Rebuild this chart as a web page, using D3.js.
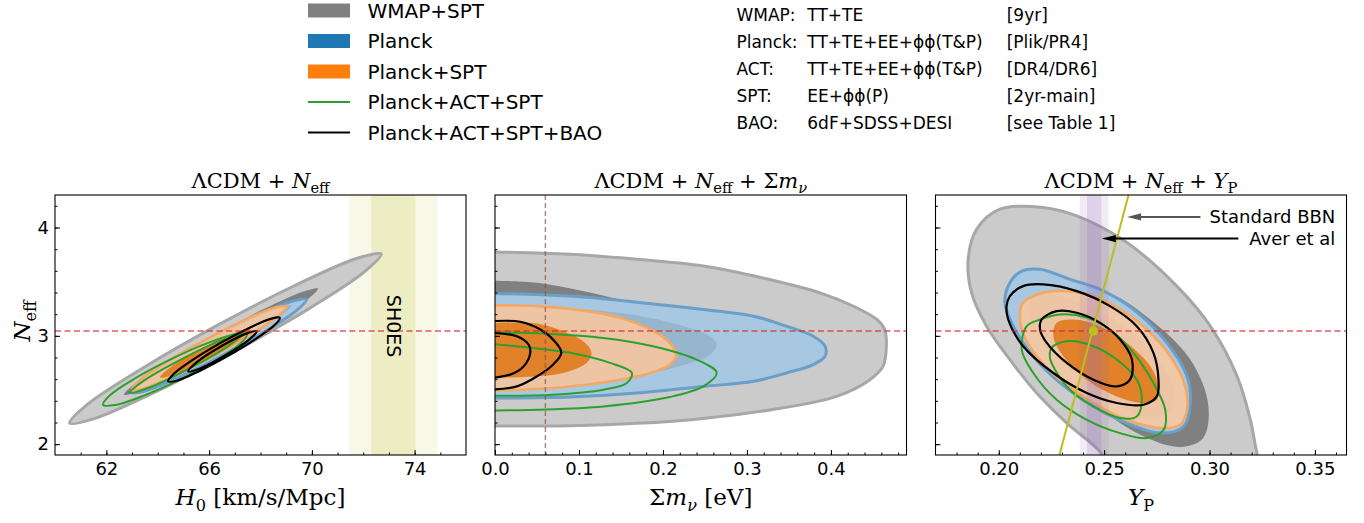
<!DOCTYPE html>
<html><head><meta charset="utf-8">
<script src="https://cdn.jsdelivr.net/npm/d3@7"></script>
<style>body{margin:0;background:#fff} svg{display:block} text{white-space:pre}</style>
</head><body>
<svg id="chart" width="1364" height="523"></svg>
<script>
// ================= DATA =================
const legendLabels = ["WMAP+SPT", "Planck", "Planck+SPT", "Planck+ACT+SPT", "Planck+ACT+SPT+BAO"];
const tableNames = ["WMAP:", "Planck:", "ACT:", "SPT:", "BAO:"];
const tableData = ["TT+TE", "TT+TE+EE+ϕϕ(T&P)", "TT+TE+EE+ϕϕ(T&P)", "EE+ϕϕ(P)", "6dF+SDSS+DESI"];
const tableRefs = ["[9yr]", "[Plik/PR4]", "[DR4/DR6]", "[2yr-main]", "[see Table 1]"];

const neffDomain = [1.9, 4.3], neffTicks = [2, 3, 4];
const h0Domain = [60, 76], h0Ticks = [62, 66, 70, 74];
const mnuDomain = [0, 0.49], mnuTicks = [0.0, 0.1, 0.2, 0.3, 0.4];
const ypDomain = [0.17, 0.365], ypTicks = [0.20, 0.25, 0.30, 0.35];

const neffStandard = 3.044;
const mnuMin = 0.06;
const shoes1 = [72.31, 74.03], shoes2 = [71.45, 74.89];
const shoesLabelPos = [73.2, 3.09];
const aver1 = [0.2419, 0.2487], aver2 = [0.2385, 0.2521];
const bbnNeff = [1.9, 4.3], bbnYp = [0.2288, 0.2616];
const bbnPoint = [0.2449, 3.044];
const arrowBBN = [[0.2957, 4.098], [0.2609, 4.098]];
const arrowAver = [[0.3137, 3.898], [0.2489, 3.898]];
const annoTextX = 0.3597;

// ---- panel 1: H0 vs Neff ----
const p1Gray95 = [[72.70,3.756],[72.03,3.588],[69.92,3.256],[66.92,2.849],[63.85,2.475],[61.53,2.236],[60.57,2.194],[61.24,2.362],[63.36,2.694],[66.35,3.101],[69.42,3.474],[71.74,3.714]];
const p1Gray68 = [[70.24,3.437],[69.82,3.334],[68.49,3.129],[66.63,2.874],[64.72,2.639],[63.28,2.486],[62.69,2.457],[63.11,2.559],[64.43,2.766],[66.29,3.020],[68.21,3.256],[69.65,3.407]];
const p1Blue95 = [[69.79,3.335],[69.42,3.237],[68.24,3.050],[66.57,2.824],[64.84,2.620],[63.53,2.493],[62.98,2.476],[63.35,2.574],[64.52,2.761],[66.20,2.987],[67.93,3.191],[69.24,3.319]];
const p1Blue68 = [[69.23,3.281],[68.47,3.130],[66.44,2.850],[64.34,2.606],[63.39,2.540],[64.15,2.691],[66.17,2.970],[68.27,3.215]];
const p1Orange95 = [[69.01,3.272],[68.69,3.183],[67.65,3.017],[66.16,2.814],[64.63,2.631],[63.47,2.517],[62.98,2.502],[63.30,2.590],[64.34,2.757],[65.83,2.960],[67.36,3.143],[68.52,3.257]];
const p1Orange68 = [[67.59,3.057],[67.15,2.958],[65.95,2.787],[64.68,2.645],[64.09,2.615],[64.52,2.714],[65.73,2.885],[67.00,3.027]];
const p1Green95 = [[67.47,3.012],[67.19,2.923],[66.24,2.770],[64.86,2.596],[63.43,2.446],[62.34,2.361],[61.87,2.364],[62.15,2.453],[63.11,2.606],[64.48,2.780],[65.91,2.930],[67.00,3.014]];
const p1Green68 = [[67.21,3.003],[66.66,2.892],[65.17,2.690],[63.62,2.518],[62.92,2.475],[63.46,2.586],[64.95,2.788],[66.50,2.960]];
const p1Black95 = [[68.75,3.167],[68.54,3.097],[67.79,2.968],[66.72,2.813],[65.61,2.674],[64.77,2.588],[64.40,2.580],[64.62,2.648],[65.36,2.778],[66.43,2.933],[67.54,3.071],[68.39,3.157]];
const p1Black68 = [[67.85,3.043],[67.53,2.960],[66.62,2.818],[65.65,2.699],[65.19,2.672],[65.51,2.755],[66.42,2.897],[67.39,3.016]];

// ---- panel 2: sum mnu vs Neff ----
const p2Gray95 = [[-0.005,3.774],[0.089,3.753],[0.169,3.707],[0.248,3.645],[0.327,3.520],[0.387,3.397],[0.427,3.273],[0.455,3.149],[0.464,3.057],[0.466,2.903],[0.462,2.718],[0.446,2.593],[0.406,2.439],[0.327,2.316],[0.248,2.238],[0.169,2.192],[0.089,2.170],[-0.005,2.167]];
const p2Gray68 = [[-0.005,3.51],[0.05,3.49],[0.10,3.42],[0.16,3.31],[0.22,3.15],[0.27,2.98],[0.29,2.85],[0.27,2.70],[0.20,2.57],[0.10,2.50],[-0.005,2.48]];
const p2Blue95 = [[-0.005,3.392],[0.089,3.367],[0.169,3.311],[0.248,3.244],[0.308,3.181],[0.347,3.089],[0.379,2.996],[0.393,2.904],[0.393,2.811],[0.379,2.734],[0.347,2.657],[0.308,2.580],[0.248,2.533],[0.169,2.472],[0.089,2.435],[-0.005,2.426]];
const p2Blue68 = [[-0.005,3.27],[0.08,3.255],[0.16,3.20],[0.22,3.10],[0.255,3.00],[0.264,2.92],[0.255,2.82],[0.22,2.72],[0.16,2.62],[0.08,2.54],[-0.005,2.51]];
const p2Orange95 = [[-0.005,3.283],[0.050,3.274],[0.109,3.228],[0.149,3.167],[0.181,3.074],[0.204,2.966],[0.216,2.827],[0.208,2.734],[0.185,2.657],[0.149,2.595],[0.089,2.533],[0.030,2.503],[-0.005,2.496]];
const p2Orange68 = [[-0.005,3.120],[0.05,3.114],[0.081,3.043],[0.105,2.950],[0.115,2.843],[0.109,2.750],[0.081,2.657],[0.05,2.626],[-0.005,2.611]];
const p2Green95 = [[-0.005,3.033],[0.06,3.02],[0.129,2.981],[0.188,2.904],[0.240,2.781],[0.264,2.657],[0.248,2.533],[0.208,2.435],[0.129,2.348],[0.050,2.318],[-0.005,2.311]];
const p2Green68 = [[-0.005,2.926],[0.089,2.843],[0.137,2.750],[0.163,2.657],[0.157,2.565],[0.129,2.503],[0.069,2.457],[-0.005,2.447]];
const p2Black95 = [[-0.005,3.135],[0.030,3.130],[0.054,3.058],[0.071,2.950],[0.079,2.843],[0.069,2.734],[0.050,2.626],[0.026,2.533],[-0.005,2.503]];
const p2Black68 = [[-0.005,3.028],[0.026,2.996],[0.040,2.919],[0.042,2.843],[0.034,2.718],[0.018,2.642],[-0.005,2.611]];

// ---- panel 3: YP vs Neff ----
const p3Gray95 = [[0.2211,4.185],[0.2370,4.107],[0.2608,3.861],[0.2845,3.459],[0.3004,3.089],[0.3131,2.626],[0.3194,2.225],[0.3227,1.901],[0.3251,1.762],[0.2528,1.762],[0.2481,1.929],[0.2323,2.194],[0.2180,2.472],[0.2053,2.781],[0.1942,3.089],[0.1871,3.398],[0.1855,3.706],[0.1895,3.984],[0.2006,4.169]];
const p3Gray68 = [[0.2291,3.475],[0.2509,3.410],[0.2719,3.151],[0.2909,2.781],[0.2994,2.364],[0.2970,2.058],[0.2861,1.975],[0.2671,2.086],[0.2433,2.410],[0.2243,2.781],[0.2148,3.151],[0.2172,3.382]];
const p3Blue95 = [[0.2109,3.598],[0.2196,3.614],[0.2338,3.521],[0.2481,3.429],[0.2639,3.244],[0.2798,2.935],[0.2893,2.626],[0.2909,2.380],[0.2877,2.163],[0.2766,2.102],[0.2608,2.194],[0.2449,2.348],[0.2291,2.565],[0.2164,2.811],[0.2069,3.089],[0.2029,3.306],[0.2053,3.491]];
const p3Blue68 = [[0.2172,3.382],[0.2338,3.336],[0.2528,3.169],[0.2719,2.873],[0.2823,2.549],[0.2814,2.318],[0.2719,2.244],[0.2528,2.410],[0.2338,2.688],[0.2196,2.966],[0.2139,3.225]];
const p3Orange95 = [[0.2116,3.306],[0.2211,3.398],[0.2323,3.413],[0.2449,3.367],[0.2576,3.244],[0.2703,3.058],[0.2814,2.811],[0.2885,2.533],[0.2893,2.318],[0.2861,2.179],[0.2766,2.148],[0.2608,2.225],[0.2449,2.380],[0.2291,2.595],[0.2180,2.811],[0.2109,3.058],[0.2101,3.213]];
const p3Orange68 = [[0.2275,3.120],[0.2354,3.151],[0.2481,3.089],[0.2608,2.935],[0.2719,2.719],[0.2758,2.533],[0.2750,2.410],[0.2687,2.380],[0.2560,2.441],[0.2418,2.595],[0.2306,2.811],[0.2259,2.996]];
const p3Green95 = [[0.2133,3.089],[0.2196,3.151],[0.2291,3.197],[0.2418,3.167],[0.2528,3.058],[0.2639,2.843],[0.2734,2.565],[0.2790,2.318],[0.2782,2.132],[0.2703,2.056],[0.2576,2.102],[0.2418,2.225],[0.2275,2.410],[0.2164,2.657],[0.2109,2.873]];
const p3Green68 = [[0.2251,2.889],[0.2323,2.950],[0.2449,2.904],[0.2560,2.781],[0.2655,2.595],[0.2679,2.410],[0.2655,2.256],[0.2576,2.241],[0.2449,2.348],[0.2338,2.503],[0.2267,2.688],[0.2243,2.796]];
const p3Black95 = [[0.2053,3.367],[0.2116,3.459],[0.2211,3.475],[0.2370,3.413],[0.2528,3.274],[0.2655,3.089],[0.2734,2.843],[0.2758,2.595],[0.2750,2.441],[0.2687,2.364],[0.2560,2.380],[0.2418,2.472],[0.2259,2.657],[0.2116,2.904],[0.2045,3.151],[0.2037,3.274]];
const p3Black68 = [[0.2204,3.151],[0.2275,3.228],[0.2370,3.213],[0.2481,3.120],[0.2576,2.966],[0.2632,2.781],[0.2623,2.595],[0.2560,2.533],[0.2449,2.595],[0.2323,2.750],[0.2228,2.935],[0.2196,3.058]];

// label parts
const title1 = [["ΛCDM","rm"],[" + ","rm"],["N","it"],["eff","sub"]];
const title2 = [["ΛCDM","rm"],[" + ","rm"],["N","it"],["eff","sub"],[" + ","rm"],["Σ","rm"],["m","it"],["ν","subit"]];
const title3 = [["ΛCDM","rm"],[" + ","rm"],["N","it"],["eff","sub"],[" + ","rm"],["Y","it"],["P","sub"]];
const xlab1 = [["H","it"],["0","sub"],[" [km/s/Mpc]","rm"]];
const xlab2 = [["Σ","rm"],["m","it"],["ν","subit"],[" [eV]","rm"]];
const xlab3 = [["Y","it"],["P","sub"]];
const ylab = [["N","it"],["eff","sub"]];

// ================= STYLE =================
const ST = {
  gray95:{fill:"#cbcbcb", op:1, stroke:"#a7a7a7", sw:3},
  gray68:{fill:"#808080", op:1},
  blue95:{fill:"#a8c8e1", op:1, stroke:"#6a9fca", sw:3},
  blue68:{fill:"#98b5ce", op:1},
  orange95:{fill:"rgb(252,200,158)", op:0.85, stroke:"#f5a862", sw:2.6},
  orange68:{fill:"#e07d22", op:0.95},
  green:{stroke:"#2ca02c", sw:2},
  black:{stroke:"#000", sw:2.2}
};
const SANS = "DejaVu Sans", SERIF = "DejaVu Serif";
const Y0 = 195, Y1 = 455;

const svg = d3.select("#chart");
const yScale = d3.scaleLinear().domain(neffDomain).range([Y1, Y0]);

function addMath(t, parts, size){
  let shift = 0;
  parts.forEach(([s, mode]) => {
    const ts = t.append("tspan").text(s);
    const isSub = mode.startsWith("sub");
    const target = isSub ? size*0.24 : 0;
    if (target !== shift){ ts.attr("dy", target - shift); shift = target; }
    if (mode.endsWith("it")) ts.attr("font-style","italic");
    if (isSub) ts.attr("font-size", size*0.7);
  });
}

const panels = [
  {x0:55, x1:466, domain:h0Domain, major:h0Ticks, minor:d3.range(61,76,1), fmt:d3.format("d"),
   title:title1, xlab:xlab1, ylabels:true, closed:true,
   sets:{gray95:p1Gray95,gray68:p1Gray68,blue95:p1Blue95,blue68:p1Blue68,orange95:p1Orange95,orange68:p1Orange68,green95:p1Green95,green68:p1Green68,black95:p1Black95,black68:p1Black68}},
  {x0:495, x1:906.5, domain:mnuDomain, major:mnuTicks, minor:d3.range(1,25).map(i=>i*0.02), fmt:d3.format(".1f"),
   title:title2, xlab:xlab2, ylabels:false, closed:false,
   sets:{gray95:p2Gray95,gray68:p2Gray68,blue95:p2Blue95,blue68:p2Blue68,orange95:p2Orange95,orange68:p2Orange68,green95:p2Green95,green68:p2Green68,black95:p2Black95,black68:p2Black68}},
  {x0:935.5, x1:1346.5, domain:ypDomain, major:ypTicks, minor:d3.range(18,37).map(i=>i*0.01), fmt:d3.format(".2f"),
   title:title3, xlab:xlab3, ylabels:false, closed:true,
   sets:{gray95:p3Gray95,gray68:p3Gray68,blue95:p3Blue95,blue68:p3Blue68,orange95:p3Orange95,orange68:p3Orange68,green95:p3Green95,green68:p3Green68,black95:p3Black95,black68:p3Black68}}
];

const defs = svg.append("defs");

panels.forEach((P, i) => {
  const x = d3.scaleLinear().domain(P.domain).range([P.x0, P.x1]);
  defs.append("clipPath").attr("id","clip"+i).append("rect")
    .attr("x",P.x0).attr("y",Y0).attr("width",P.x1-P.x0).attr("height",Y1-Y0);
  const g = svg.append("g");
  const plot = g.append("g").attr("clip-path",`url(#clip${i})`);
  const line = d3.line().x(d=>x(d[0])).y(d=>yScale(d[1]))
    .curve(P.closed ? d3.curveCatmullRomClosed.alpha(0.5) : d3.curveCatmullRom.alpha(0.5));
  const pathOf = pts => P.closed ? line(pts) : line(pts) + "Z";

  // SH0ES bands (panel 1, beneath)
  if (i === 0){
    [shoes2, shoes1].forEach((b, k) => {
      plot.append("rect").attr("x", x(b[0])).attr("width", x(b[1])-x(b[0]))
        .attr("y", Y0).attr("height", Y1-Y0).attr("fill","#bcbd22").attr("fill-opacity", k===0?0.1:0.18);
    });
  }
  // filled contours
  ["gray95","gray68","blue95","blue68","orange95","orange68"].forEach(k => {
    const s = ST[k];
    plot.append("path").attr("d", pathOf(P.sets[k]))
      .attr("fill", s.fill).attr("fill-opacity", s.op)
      .attr("stroke", s.stroke || "none").attr("stroke-width", s.sw || 0)
      .attr("stroke-linejoin","round");
  });
  // Aver et al bands (panel 3, on top of fills)
  if (i === 2){
    [aver2, aver1].forEach((b, k) => {
      plot.append("rect").attr("x", x(b[0])).attr("width", x(b[1])-x(b[0]))
        .attr("y", Y0).attr("height", Y1-Y0).attr("fill","#9467bd").attr("fill-opacity", k===0?0.13:0.2);
    });
  }
  // line contours
  [["green95","green"],["green68","green"],["black95","black"],["black68","black"]].forEach(([k, sk]) => {
    plot.append("path").attr("d", pathOf(P.sets[k]))
      .attr("fill","none").attr("stroke", ST[sk].stroke).attr("stroke-width", ST[sk].sw)
      .attr("stroke-linejoin","round");
  });
  // reference lines
  plot.append("line").attr("x1",P.x0).attr("x2",P.x1)
    .attr("y1", yScale(neffStandard)).attr("y2", yScale(neffStandard))
    .attr("stroke","#d62728").attr("stroke-opacity",0.75).attr("stroke-width",1.5).attr("stroke-dasharray","6,3.5");
  if (i === 1){
    plot.append("line").attr("x1",x(mnuMin)).attr("x2",x(mnuMin)).attr("y1",Y0).attr("y2",Y1)
      .attr("stroke","#8c564b").attr("stroke-opacity",0.7).attr("stroke-width",1.5).attr("stroke-dasharray","5,3");
  }
  if (i === 0){
    g.append("text").attr("transform",`translate(${x(shoesLabelPos[0])},${yScale(shoesLabelPos[1])}) rotate(90)`)
      .attr("text-anchor","middle").attr("dominant-baseline","central")
      .attr("font-family",SANS).attr("font-size",19).attr("fill","#000").text("SH0ES");
  }
  if (i === 2){
    plot.append("line").attr("x1",x(bbnYp[0])).attr("y1",yScale(bbnNeff[0]))
      .attr("x2",x(bbnYp[1])).attr("y2",yScale(bbnNeff[1]))
      .attr("stroke","#bcbd22").attr("stroke-width",2);
    plot.append("circle").attr("cx",x(bbnPoint[0])).attr("cy",yScale(bbnPoint[1])).attr("r",4.8).attr("fill","#bcbd22");
    [[arrowBBN,"#555555","Standard BBN"],[arrowAver,"#000000","Aver et al"]].forEach(([a, col, lab]) => {
      const tx = x(a[0][0]), ty = yScale(a[0][1]), hx = x(a[1][0]), hy = yScale(a[1][1]);
      g.append("line").attr("x1",tx).attr("y1",ty).attr("x2",hx+12).attr("y2",hy)
        .attr("stroke",col).attr("stroke-width",2);
      g.append("path").attr("d",`M${hx},${hy}L${hx+14},${hy-3.6}L${hx+14},${hy+3.6}Z`).attr("fill",col);
      g.append("text").attr("x",x(annoTextX)).attr("y",hy).attr("dy","0.36em").attr("text-anchor","end")
        .attr("font-family",SANS).attr("font-size",18).attr("fill","#000").text(lab);
    });
  }

  // axes
  const styleAxis = a => { a.select(".domain").remove(); a.selectAll("line").attr("stroke","#000").attr("stroke-width",1);
    a.selectAll("text").attr("font-family",SANS).attr("font-size",18).attr("fill","#000"); a.attr("font-family",SANS).attr("font-size",18); };
  g.append("g").attr("transform",`translate(0,${Y1})`)
    .call(d3.axisBottom(x).tickValues(P.minor).tickSize(-2.5).tickFormat("")).call(styleAxis);
  g.append("g").attr("transform",`translate(0,${Y1})`)
    .call(d3.axisBottom(x).tickValues(P.major).tickSize(-5).tickPadding(7).tickFormat(P.fmt)).call(styleAxis);
  g.append("g").attr("transform",`translate(${P.x0},0)`)
    .call(d3.axisLeft(yScale).tickValues(d3.range(10,22).map(v=>v*0.2)).tickSize(-2.5).tickFormat("")).call(styleAxis);
  g.append("g").attr("transform",`translate(${P.x0},0)`)
    .call(d3.axisLeft(yScale).tickValues(neffTicks).tickSize(-5).tickPadding(6).tickFormat(P.ylabels ? d3.format("d") : "")).call(styleAxis);
  g.append("rect").attr("x",P.x0).attr("y",Y0).attr("width",P.x1-P.x0).attr("height",Y1-Y0)
    .attr("fill","none").attr("stroke","#000").attr("stroke-width",1.1);

  // title & x label
  const cx = (P.x0+P.x1)/2;
  addMath(g.append("text").attr("x",cx).attr("y",188).attr("text-anchor","middle")
    .attr("font-family",SERIF).attr("font-size",21).attr("fill","#000"), P.title, 21);
  addMath(g.append("text").attr("x",cx).attr("y",505).attr("text-anchor","middle")
    .attr("font-family",SERIF).attr("font-size",23).attr("fill","#000"), P.xlab, 23);
  if (i === 0){
    addMath(g.append("text").attr("transform",`translate(30,${(Y0+Y1)/2-4}) rotate(-90)`).attr("text-anchor","middle")
      .attr("font-family",SERIF).attr("font-size",23).attr("fill","#000"), ylab, 23);
  }
});

// ================= LEGEND =================
const legColors = ["#808080","#1f77b4","#ff7f0e","#2ca02c","#000000"];
const legend = svg.append("g");
legendLabels.forEach((lab, k) => {
  const cy = 10.5 + k*30.5;
  if (k < 3){
    legend.append("rect").attr("x",308).attr("y",cy-7).attr("width",42).attr("height",14).attr("fill",legColors[k]);
  } else {
    legend.append("line").attr("x1",308).attr("x2",350).attr("y1",cy).attr("y2",cy)
      .attr("stroke",legColors[k]).attr("stroke-width",2);
  }
  legend.append("text").attr("x",367.5).attr("y",cy+7).attr("font-family",SANS).attr("font-size",20)
    .attr("fill","#000").text(lab);
});

// ================= TABLE =================
const tbl = svg.append("g").attr("font-family",SANS).attr("font-size",17).attr("fill","#000");
tableNames.forEach((nm, k) => {
  const by = 15 + k*26.9 + 6.2;
  tbl.append("text").attr("x",736.5).attr("y",by).text(nm);
  tbl.append("text").attr("x",807.3).attr("y",by).text(tableData[k]);
  tbl.append("text").attr("x",1006.7).attr("y",by).text(tableRefs[k]);
});
</script>
</body></html>
